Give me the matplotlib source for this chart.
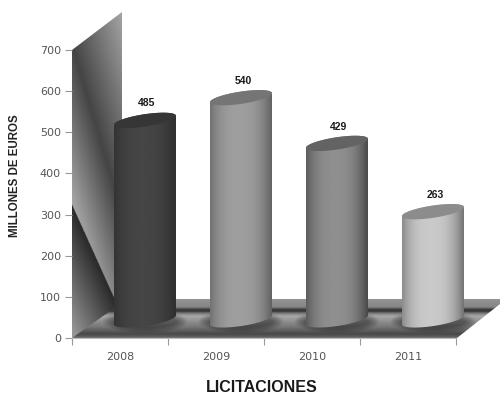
import matplotlib
matplotlib.use('Agg')
import matplotlib.pyplot as plt
import numpy as np
from matplotlib.patches import Polygon, Ellipse

years = ['2008', '2009', '2010', '2011']
values = [485, 540, 429, 263]
y_ticks = [0, 100, 200, 300, 400, 500, 600, 700]

# grey levels of each cylinder: edge, centre, top
edge_grey = [0.17, 0.36, 0.26, 0.42]
centre_grey = [0.27, 0.62, 0.56, 0.79]
top_grey = [0.21, 0.46, 0.39, 0.55]

X0, X1, Y0, Y1 = 72, 456, 338, 50  # axes box in pixels
BAR_SHIFT = 0.26  # cylinders stand on the floor, behind the front edge
BASE_LIFT = 44
HALF_W = 0.323
ELL_H = 15
ELL_TILT = 11


def px(x, y):
    # pixel of the reference -> data coords, only used for the fake 3D scenery
    return (x - X0) / (X1 - X0) * 4, (Y0 - y) / (Y0 - Y1) * 700


def gradient(ax, arr, extent, outline, zorder):
    patch = Polygon(outline, closed=True, transform=ax.transData, fc='none', ec='none')
    ax.add_patch(patch)
    im = ax.imshow(arr, extent=extent, origin='upper', cmap='gray', vmin=0, vmax=1,
                   aspect='auto', interpolation='bilinear', zorder=zorder)
    im.set_clip_box(ax.figure.bbox)
    im.set_clip_path(patch)
    return im


fig = plt.figure(figsize=(5, 3.95), dpi=100)
ax = fig.add_axes([X0 / 500, (395 - Y0) / 395, (X1 - X0) / 500, (Y0 - Y1) / 395])

# left wall
xs, ys = np.meshgrid(np.linspace(72, 122, 120), np.linspace(12, 338, 500))
d = ((xs - 75) * 145 - (ys - 55) * 43) / 151
wall = 0.27 + np.where(d > 0, 0.0065, 0.0085) * np.abs(d)
below = ys - (205 + (xs - 72) * 2.2)
wall = np.where(below > 0, 0.16 + 0.0034 * below, wall)
wall_l, wall_t = px(72, 12)
wall_r, wall_b = px(122, 338)
gradient(ax, wall, [wall_l, wall_r, wall_b, wall_t],
         [px(72, 50), px(122, 12), px(122, 312), px(72, 338)], 1)

# floor with its back strip
fy = np.linspace(297, 339, 160)
floor = np.interp(fy, [297, 299, 307, 309, 311, 313, 316, 327, 334, 337, 339],
                  [0.62, 0.58, 0.52, 0.26, 0.20, 0.46, 0.66, 0.46, 0.28, 0.38, 0.55])
floor = np.tile(floor[:, None], (1, 4))
fl_l, fl_b = px(72, 339)
fl_r, fl_t = px(500, 297)
gradient(ax, floor, [fl_l, fl_r, fl_b, fl_t],
         [px(72, 338), px(113, 309), px(122, 299), px(500, 299), px(500, 304), px(457, 338)], 2)

for i, v in enumerate(values):
    cx = i + 0.5 + BAR_SHIFT
    top = v + BASE_LIFT
    t = np.linspace(0, 2 * np.pi, 90)
    ex = cx + HALF_W * np.cos(t)

    # soft shadow on the floor
    for k in range(10):
        ax.add_patch(Ellipse((cx, BASE_LIFT - 4), 2 * HALF_W + 0.24 - k * 0.024, 56 - k * 3,
                             fc='black', ec='none', alpha=0.045, zorder=3, clip_on=False))

    # body
    tb = np.linspace(0, np.pi, 45)
    top_arc = np.column_stack([cx + HALF_W * np.cos(tb),
                               top + ELL_H * np.sin(tb) + ELL_TILT * np.cos(tb)])
    tb2 = np.linspace(np.pi, 2 * np.pi, 45)
    low_arc = np.column_stack([cx + HALF_W * np.cos(tb2),
                               BASE_LIFT + ELL_H * np.sin(tb2) + ELL_TILT * np.cos(tb2)])
    body = np.vstack([top_arc, low_arc])
    u = np.linspace(-1, 1, 120)
    shade = edge_grey[i] + (centre_grey[i] - edge_grey[i]) * np.clip(1 - np.abs((u + 0.08) / 1.08) ** 2.6, 0, 1)
    gradient(ax, shade[None, :], [cx - HALF_W, cx + HALF_W, BASE_LIFT - 30, top + 30], body, 4)

    # top cap
    ey = top + ELL_H * np.sin(t) + ELL_TILT * np.cos(t)
    ax.fill(ex, ey, color=str(top_grey[i]), lw=0, zorder=5, clip_on=False)

    ax.text(cx + 0.02, top + 41, str(v), ha='center', va='center', fontsize=7.5, fontweight='bold',
            family='Liberation Sans', color='#1a1a1a', zorder=6, clip_on=False)

ax.set_xlim(0, 4)
ax.set_ylim(0, 700)
ax.set_xticks(range(5))
ax.set_xticklabels([])
ax.set_xticks(np.arange(4) + 0.5, years, minor=True)
ax.set_yticks(y_ticks)
ax.tick_params(axis='x', which='major', length=5, width=0.8, color='#999999')
ax.tick_params(axis='x', which='minor', length=0, pad=10, labelsize=8, labelcolor='#555555')
ax.tick_params(axis='y', length=5, width=0.8, color='#999999', labelsize=8, labelcolor='#555555', pad=3)
for s in ['top', 'right', 'left']:
    ax.spines[s].set_visible(False)
ax.spines['bottom'].set_color('#bbbbbb')

fig.text(15 / 500, 1 - 176 / 395, 'MILLONES DE EUROS', rotation=90, ha='center', va='center',
         fontsize=8.3, fontweight='bold', family='Liberation Sans', color='#222222')
fig.text(262 / 500, 1 - 387 / 395, 'LICITACIONES', ha='center', va='center',
         fontsize=11.5, fontweight='bold', family='Liberation Sans', color='#1a1a1a')

fig.savefig('out.png', dpi=100)
